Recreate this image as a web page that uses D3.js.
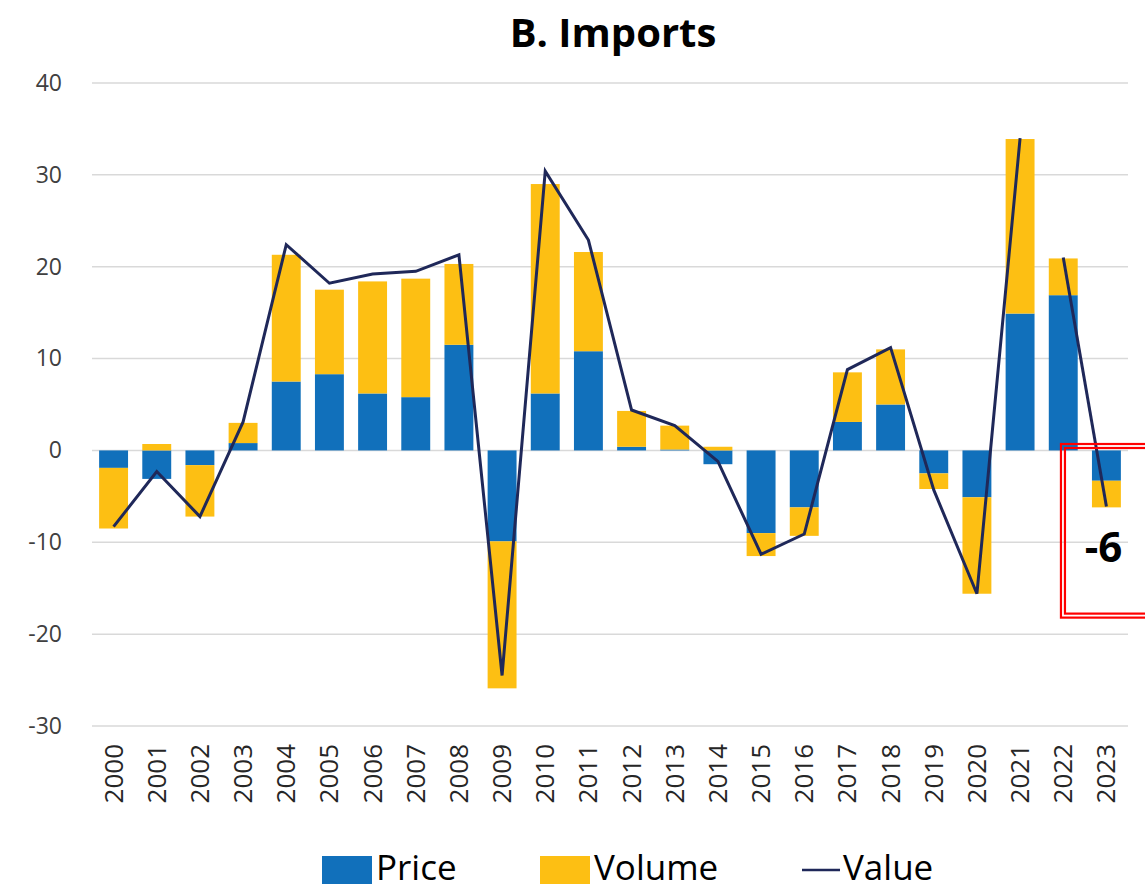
<!DOCTYPE html>
<html>
<head>
<meta charset="utf-8">
<script src="https://cdn.jsdelivr.net/npm/d3@7"></script>
<style>
  body { margin: 0; background: #fff; }
  svg { display: block; font-family: "Open Sans", sans-serif; }
</style>
</head>
<body>
<svg id="chart" width="1145" height="889"></svg>
<script>
// Import growth, % (price and volume contributions, value line)
var years = ["2000", "2001", "2002", "2003", "2004", "2005", "2006", "2007",
             "2008", "2009", "2010", "2011", "2012", "2013", "2014", "2015",
             "2016", "2017", "2018", "2019", "2020", "2021", "2022", "2023"];

var price = [-1.9, -3.1, -1.6, 0.8, 7.5, 8.3, 6.2, 5.8,
             11.5, -9.9, 6.2, 10.8, 0.4, 0.1, -1.5, -9.0,
             -6.2, 3.1, 5.0, -2.5, -5.1, 14.9, 16.9, -3.3];

var volume = [-6.6, 0.7, -5.6, 2.2, 13.8, 9.2, 12.2, 12.9,
              8.8, -16.0, 22.8, 10.8, 3.9, 2.6, 0.4, -2.5,
              -3.1, 5.4, 6.0, -1.7, -10.5, 19.0, 4.0, -2.9];

var value = [-8.3, -2.3, -7.2, 3.1, 22.4, 18.2, 19.2, 19.5,
             21.3, -24.5, 30.4, 22.9, 4.4, 2.7, -1.2, -11.3,
             -9.1, 8.8, 11.2, -4.3, -15.6, 34.0, 21.0, -6.1];

// the value line is broken here (a new segment starts at this year)
var lineBreaks = ["2022"];

var yTicks = [-30, -20, -10, 0, 10, 20, 30, 40];

var seriesNames = ["Price", "Volume"],
    colors = { Price: "#1170bb", Volume: "#fdbf13" },
    lineColor = "#1f2859";

// plain hyphen for negatives, like the original
var fmt = function(d) { return String(Math.round(d)); };

var svg = d3.select("#chart");

var x = d3.scaleBand()
    .domain(years)
    .range([92, 1128])
    .paddingInner(0.33)
    .paddingOuter(0.165);

var y = d3.scaleLinear()
    .domain([-30, 40])
    .range([726, 83]);

// gridlines
svg.append("g")
    .selectAll("line")
    .data(yTicks)
  .enter().append("line")
    .attr("x1", 92)
    .attr("x2", 1128)
    .attr("y1", function(d) { return y(d); })
    .attr("y2", function(d) { return y(d); })
    .attr("stroke", "#d9d9d9")
    .attr("stroke-width", 1.5);

// y axis labels
var yAxis = d3.axisLeft(y)
    .tickValues(yTicks)
    .tickFormat(fmt)
    .tickSize(0)
    .tickPadding(0);

svg.append("g")
    .attr("transform", "translate(62,0)")
    .call(yAxis)
    .call(function(g) { g.select(".domain").remove(); })
    .selectAll("text")
    .attr("font-family", "Open Sans")
    .attr("font-size", 23)
    .attr("fill", "#404040");

// stacked bars
var rows = years.map(function(yr, i) {
  return { year: yr, Price: price[i], Volume: volume[i] };
});

var stacked = d3.stack()
    .keys(seriesNames)
    .offset(d3.stackOffsetDiverging)(rows);

svg.append("g")
    .selectAll("g")
    .data(stacked)
  .enter().append("g")
    .attr("fill", function(d) { return colors[d.key]; })
  .selectAll("rect")
    .data(function(d) { return d; })
  .enter().append("rect")
    .attr("x", function(d) { return x(d.data.year); })
    .attr("width", x.bandwidth())
    .attr("y", function(d) { return y(Math.max(d[0], d[1])); })
    .attr("height", function(d) { return Math.abs(y(d[0]) - y(d[1])); });

// value line, split at the breaks
var points = years.map(function(yr, i) { return { year: yr, v: value[i] }; });
var segments = [], cur = [];
points.forEach(function(p) {
  if (lineBreaks.indexOf(p.year) >= 0 && cur.length) { segments.push(cur); cur = []; }
  cur.push(p);
});
segments.push(cur);

var line = d3.line()
    .x(function(d) { return x(d.year) + x.bandwidth() / 2; })
    .y(function(d) { return y(d.v); });

svg.append("g")
    .selectAll("path")
    .data(segments)
  .enter().append("path")
    .attr("d", line)
    .attr("fill", "none")
    .attr("stroke", lineColor)
    .attr("stroke-width", 3)
    .attr("stroke-linejoin", "miter");

// x axis labels (rotated)
var xAxis = d3.axisBottom(x).tickSize(0).tickPadding(0);

svg.append("g")
    .attr("transform", "translate(0,744)")
    .call(xAxis)
    .call(function(g) { g.select(".domain").remove(); })
    .selectAll("text")
    .attr("font-family", "Open Sans")
    .attr("font-size", 26)
    .attr("fill", "#262626")
    .attr("text-anchor", "end")
    .attr("dy", null)
    .attr("y", 0)
    .attr("x", 0)
    .attr("transform", "rotate(-90) translate(0,9)");

// title
svg.append("text")
    .attr("x", 613)
    .attr("y", 47)
    .attr("text-anchor", "middle")
    .attr("font-size", 40)
    .attr("font-weight", "bold")
    .attr("fill", "#000")
    .text("B. Imports");

// highlight box around the latest year
var last = years[years.length - 1];
var boxX = x(last) - 31,
    boxTop = y(0.7),
    boxBottom = y(-18.2);

[0, 4].forEach(function(o) {
  svg.append("rect")
      .attr("x", boxX + o)
      .attr("y", boxTop + o)
      .attr("width", 200)
      .attr("height", boxBottom - boxTop - 2 * o)
      .attr("fill", "none")
      .attr("stroke", "#ff0000")
      .attr("stroke-width", 2.2);
});

svg.append("text")
    .attr("x", x(last) + x.bandwidth() / 2 - 3)
    .attr("y", 562)
    .attr("text-anchor", "middle")
    .attr("font-size", 42)
    .attr("font-weight", "bold")
    .attr("fill", "#000")
    .text(fmt(value[value.length - 1]));

// legend
var legend = [
  { name: "Price", type: "rect", x: 322 },
  { name: "Volume", type: "rect", x: 540 },
  { name: "Value", type: "line", x: 802 }
];

var lg = svg.append("g")
    .selectAll("g")
    .data(legend)
  .enter().append("g")
    .attr("transform", function(d) { return "translate(" + d.x + ",0)"; });

lg.filter(function(d) { return d.type === "rect"; })
  .append("rect")
    .attr("y", 856)
    .attr("width", 50)
    .attr("height", 28)
    .attr("fill", function(d) { return colors[d.name]; });

lg.filter(function(d) { return d.type === "line"; })
  .append("line")
    .attr("x1", 0)
    .attr("x2", 38)
    .attr("y1", 870)
    .attr("y2", 870)
    .attr("stroke", lineColor)
    .attr("stroke-width", 2.5);

lg.append("text")
    .attr("x", function(d) { return d.type === "rect" ? 54 : 41; })
    .attr("y", 880)
    .attr("font-size", 35)
    .attr("fill", "#000")
    .text(function(d) { return d.name; });
</script>
</body>
</html>
